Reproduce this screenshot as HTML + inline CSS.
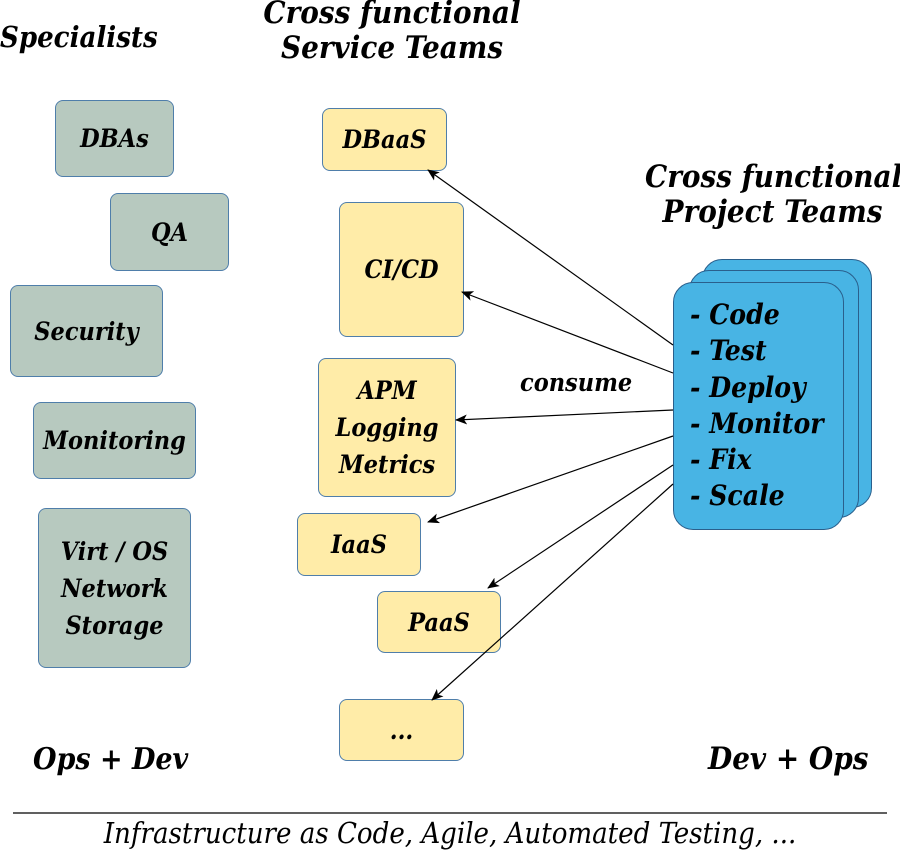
<!DOCTYPE html>
<html><head><meta charset="utf-8"><style>
body{margin:0;width:900px;height:854px;background:#fff;position:relative;overflow:hidden;font-family:"DejaVu Serif Condensed","DejaVu Serif","Liberation Serif",serif;font-weight:bold;font-style:italic;color:#000}
.b{position:absolute;box-sizing:border-box;border-radius:8px;display:flex;align-items:center;justify-content:center;text-align:center;font-size:25px;line-height:37px}
.g{background:#b7c9bf;border:1.5px solid #4f7eaa}
.y{background:#ffeca8;border:1.5px solid #4f7eaa}
.c{position:absolute;box-sizing:border-box;background:#48b4e4;border:1.5px solid #2a5f8c;border-radius:20px}
.t{position:absolute;font-size:30px;line-height:35px;white-space:nowrap}
</style></head><body>
<div class="t" style="left:0;top:20px;font-size:29px">Specialists</div>
<div class="t" style="left:262px;top:-4px;text-align:center;width:260px;font-size:31px">Cross functional<br>Service Teams</div>
<div class="t" style="left:645px;top:160px;text-align:center;width:255px;font-size:31px">Cross functional<br>Project Teams</div>
<div class="b g" style="left:55px;top:100px;width:119px;height:77px">DBAs</div>
<div class="b g" style="left:110px;top:193px;width:119px;height:78px">QA</div>
<div class="b g" style="left:10px;top:285px;width:153px;height:92px">Security</div>
<div class="b g" style="left:33px;top:402px;width:163px;height:77px">Monitoring</div>
<div class="b g" style="left:38px;top:508px;width:153px;height:160px">Virt / OS<br>Network<br>Storage</div>
<div class="b y" style="left:322px;top:108px;width:125px;height:63px">DBaaS</div>
<div class="b y" style="left:339px;top:202px;width:125px;height:135px">CI/CD</div>
<div class="b y" style="left:318px;top:358px;width:138px;height:139px">APM<br>Logging<br>Metrics</div>
<div class="b y" style="left:297px;top:513px;width:124px;height:63px">IaaS</div>
<div class="b y" style="left:377px;top:591px;width:124px;height:62px">PaaS</div>
<div class="b y" style="left:339px;top:699px;width:125px;height:62px">...</div>
<div class="c" style="left:702px;top:259px;width:170px;height:249px"></div>
<div class="c" style="left:689px;top:270px;width:170px;height:248px"></div>
<div class="c" style="left:673px;top:282px;width:171px;height:248px"></div>
<div class="t" style="left:690px;top:297px;font-size:28px;line-height:36.3px">- Code<br>- Test<br>- Deploy<br>- Monitor<br>- Fix<br>- Scale</div>
<div class="t" style="left:520px;top:365px;font-size:25px">consume</div>
<svg style="position:absolute;left:0;top:0" width="900" height="854">
<defs><marker id="a" markerWidth="12" markerHeight="10" refX="11" refY="5" orient="auto" markerUnits="userSpaceOnUse"><path d="M0,0 L12,5 L0,10 L3,5z" fill="#000"/></marker></defs>
<g stroke="#000" stroke-width="1.2" marker-end="url(#a)">
<line x1="673" y1="345" x2="428" y2="170"/>
<line x1="673" y1="373" x2="462" y2="292"/>
<line x1="673" y1="410" x2="456" y2="420"/>
<line x1="673" y1="436" x2="428" y2="522"/>
<line x1="673" y1="465" x2="488" y2="588"/>
<line x1="673" y1="484" x2="432" y2="700"/>
</g>
<line x1="13" y1="813" x2="887" y2="813" stroke="#000" stroke-width="1.2"/>
</svg>
<div class="t" style="left:33px;top:742px">Ops + Dev</div>
<div class="t" style="left:708px;top:742px;font-size:31px">Dev + Ops</div>
<div class="t" style="left:0;width:900px;text-align:center;top:816px;font-weight:normal;font-size:29px">Infrastructure as Code, Agile, Automated Testing, ...</div>
</body></html>
